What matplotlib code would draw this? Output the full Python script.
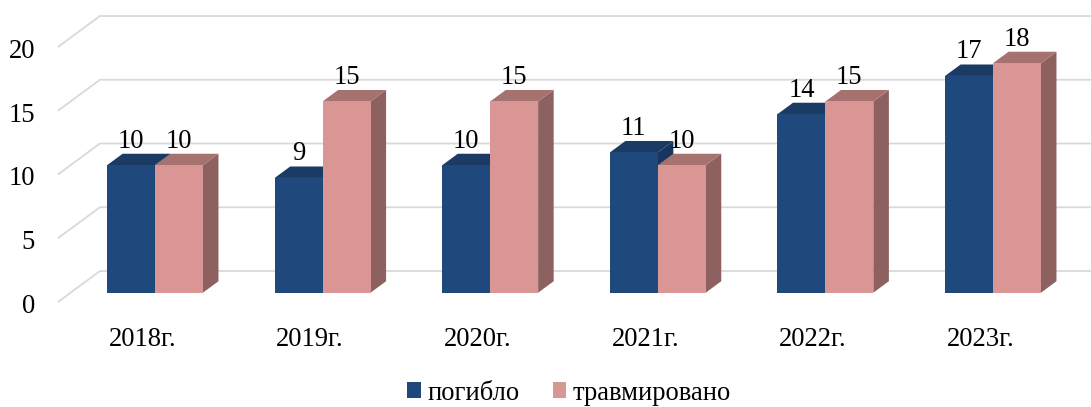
import matplotlib
matplotlib.use("Agg")
import matplotlib.pyplot as plt
from matplotlib.patches import Polygon, Patch

# data
years = ['2018г.', '2019г.', '2020г.', '2021г.', '2022г.', '2023г.']
killed = [10, 9, 10, 11, 14, 17]
injured = [10, 15, 15, 10, 15, 18]
yticks = [0, 5, 10, 15, 20]
series_names = ['погибло', 'травмировано']

# 3d look: depth is projected as a shift right/up
DX = 0.2506     # x shift per unit depth (category units)
DY = 2.43       # y shift per unit depth (value units)
Z_FRONT = -0.3
Z_BACK = 0.7
BAR_DEPTH = 0.37
WALL_LEFT = -0.504
BAR_W = 0.286

blue = ('#1f497d', '#1b3b64', '#17365f')    # front, top, side
pink = ('#d99694', '#a6726f', '#8c6160')
grid_color = '#d9d9d9'
FS = 19.2

plt.rcParams['font.family'] = ['Liberation Serif', 'DejaVu Serif']


def proj(x, y, z):
    return x + z * DX, y + z * DY


def draw_box(ax, x, w, h, colors):
    front, top, side = colors
    side_pts = [(x + w, 0), proj(x + w, 0, BAR_DEPTH), proj(x + w, h, BAR_DEPTH), (x + w, h)]
    top_pts = [(x, h), (x + w, h), proj(x + w, h, BAR_DEPTH), proj(x, h, BAR_DEPTH)]
    front_pts = [(x, 0), (x + w, 0), (x + w, h), (x, h)]
    ax.add_patch(Polygon(side_pts, closed=True, fc=side, ec='none', zorder=3))
    ax.add_patch(Polygon(top_pts, closed=True, fc=top, ec='none', zorder=3))
    ax.add_patch(Polygon(front_pts, closed=True, fc=front, ec='none', zorder=3))
    ax.text(x + w / 2, h + BAR_DEPTH * DY, str(h), ha='center', va='bottom',
            fontsize=FS, color='black', zorder=5)


fig = plt.figure(figsize=(10.91, 4.07), dpi=100)
ax = fig.add_axes([0, 0, 1, 1])
ax.set_xlim(-155 / 167.6, (1091 - 155) / 167.6)
ax.set_ylim((292.7 - 407) / 12.75, 292.7 / 12.75)
ax.axis('off')

# gridlines on floor/left edge and back wall
for v in yticks:
    p0 = proj(WALL_LEFT, v, Z_FRONT)
    p1 = proj(WALL_LEFT, v, Z_BACK)
    p2 = proj(7.0, v, Z_BACK)
    ax.plot([p0[0], p1[0], p2[0]], [p0[1], p1[1], p2[1]], color=grid_color,
            lw=1.3, zorder=1, solid_capstyle='butt')
    ax.text(p0[0] - 0.137, p0[1] - 0.1, str(v), ha='right', va='center_baseline',
            fontsize=FS, color='black')

for i, (a, b) in enumerate(zip(killed, injured)):
    draw_box(ax, i - BAR_W, BAR_W, a, blue)
    draw_box(ax, i, BAR_W, b, pink)
    cx, _ = proj(i, 0, Z_FRONT)
    ax.text(cx, (292.7 - 337) / 12.75, years[i], ha='center', va='center_baseline',
            fontsize=FS, color='black')

handles = [Patch(fc=blue[0], ec='none'), Patch(fc=pink[0], ec='none')]
fig.legend(handles, series_names, loc='center', bbox_to_anchor=(0.5215, 1 - 393 / 407),
           ncol=2, frameon=False, fontsize=FS, handlelength=0.52, handleheight=0.52,
           handletextpad=0.22, columnspacing=1.25)

fig.savefig('out.png', dpi=100)
